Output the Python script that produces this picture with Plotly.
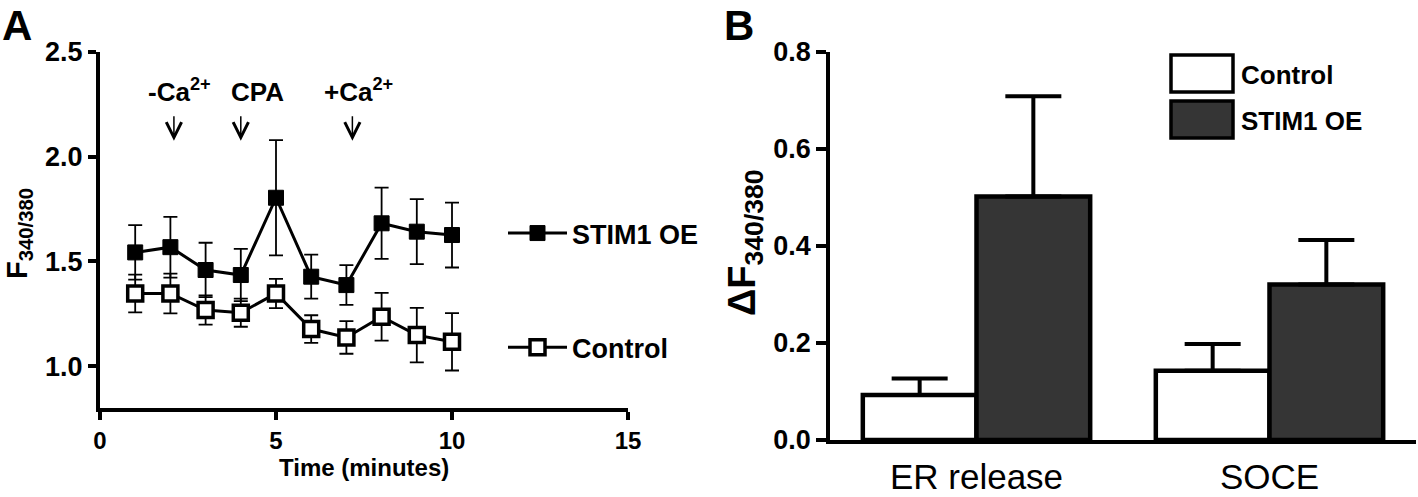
import plotly.graph_objects as go

# ---------------- Data ----------------
# Panel A: time course
time_min = [1, 2, 3, 4, 5, 6, 7, 8, 9, 10]
stim1_mean = [1.543, 1.568, 1.459, 1.435, 1.804, 1.427, 1.387, 1.682, 1.642, 1.626]
stim1_sem = [0.13, 0.145, 0.13, 0.125, 0.275, 0.105, 0.095, 0.17, 0.155, 0.155]
control_mean = [1.347, 1.347, 1.268, 1.255, 1.347, 1.177, 1.137, 1.236, 1.148, 1.116]
control_sem = [0.09, 0.095, 0.07, 0.067, 0.07, 0.066, 0.078, 0.114, 0.13, 0.137]

# event annotations (label text, label x, arrow x)
event_labels = ["-Ca<sup>2+</sup>", "CPA", "+Ca<sup>2+</sup>"]
event_label_x = [2.27, 4.47, 7.33]
event_arrow_x = [2.1, 4.0, 7.17]

# Panel B: bar chart
categories = ["ER release", "SOCE"]
bar_control = [0.093, 0.143]
bar_control_sem = [0.034, 0.055]
bar_stim1 = [0.502, 0.3205]
bar_stim1_sem = [0.207, 0.092]

FONT = "Liberation Sans, Arial, Helvetica, sans-serif"

fig = go.Figure()

# ---------------- Panel A ----------------
fig.add_trace(go.Scatter(
    x=time_min, y=stim1_mean, name="<b>STIM1 OE</b>", legendgroup="s",
    mode="lines+markers",
    line=dict(color="black", width=3),
    marker=dict(symbol="square", size=15, color="black", line=dict(color="black", width=1)),
    error_y=dict(type="data", array=stim1_sem, visible=True, color="black", thickness=1.8, width=7),
    xaxis="x", yaxis="y", legend="legend",
))
fig.add_trace(go.Scatter(
    x=time_min, y=control_mean, name="<b>Control</b>", legendgroup="c",
    mode="lines+markers",
    line=dict(color="black", width=3),
    marker=dict(symbol="square", size=15, color="white", line=dict(color="black", width=3.5)),
    error_y=dict(type="data", array=control_sem, visible=True, color="black", thickness=1.8, width=7),
    xaxis="x", yaxis="y", legend="legend",
))

# ---------------- Panel B ----------------
fig.add_trace(go.Bar(
    x=categories, y=bar_control, name="Control", showlegend=False,
    marker=dict(color="white", line=dict(color="black", width=4.5)),
    error_y=dict(type="data", symmetric=False, array=bar_control_sem,
                 arrayminus=[0] * len(bar_control), color="black", thickness=4, width=28),
    xaxis="x2", yaxis="y2", offsetgroup="c",
))
fig.add_trace(go.Bar(
    x=categories, y=bar_stim1, name="STIM1 OE", showlegend=False,
    marker=dict(color="#353535", line=dict(color="black", width=4.5)),
    error_y=dict(type="data", symmetric=False, array=bar_stim1_sem,
                 arrayminus=[0] * len(bar_stim1), color="black", thickness=4, width=28),
    xaxis="x2", yaxis="y2", offsetgroup="s",
))

W, H = 1418, 497


def px_x(p):
    return p / W


def px_y(p):
    return 1 - p / H


annotations = []

# event labels and arrows in panel A
for lab, lx, axx in zip(event_labels, event_label_x, event_arrow_x):
    annotations.append(dict(
        x=lx, y=2.23, xref="x", yref="y", text="<b>" + lab + "</b>",
        showarrow=False, xanchor="center", yanchor="bottom",
        font=dict(family=FONT, size=26, color="black"),
    ))
    annotations.append(dict(
        x=axx, y=2.076, xref="x", yref="y", text="",
        showarrow=True, ax=0, ay=-26, axref="pixel", ayref="pixel",
        arrowhead=5, arrowsize=2.0, arrowwidth=1.5, arrowcolor="black", standoff=0,
    ))

# Axis titles
annotations.append(dict(
    x=px_x(0), y=px_y(234), xref="paper", yref="paper",
    text="<b>F<sub>340/380</sub></b>", textangle=-90, showarrow=False,
    xanchor="left", yanchor="middle", borderpad=0,
    font=dict(family=FONT, size=29, color="black"),
))
annotations.append(dict(
    x=px_x(364), y=px_y(467), xref="paper", yref="paper",
    text="<b>Time (minutes)</b>", showarrow=False,
    xanchor="center", yanchor="middle", font=dict(family=FONT, size=24, color="black"),
))
annotations.append(dict(
    x=px_x(719), y=px_y(243), xref="paper", yref="paper",
    text="<b>ΔF<sub>340/380</sub></b>", textangle=-90, showarrow=False,
    xanchor="left", yanchor="middle", font=dict(family=FONT, size=38, color="black"),
))

# Panel letters
annotations.append(dict(
    x=px_x(0), y=px_y(0), xref="paper", yref="paper", text="<b>A</b>",
    showarrow=False, xanchor="left", yanchor="top",
    font=dict(family=FONT, size=42, color="black"),
))
annotations.append(dict(
    x=px_x(722), y=px_y(0), xref="paper", yref="paper", text="<b>B</b>",
    showarrow=False, xanchor="left", yanchor="top",
    font=dict(family=FONT, size=42, color="black"),
))

# Legend for panel B (large swatches)
legend_b_names = ["Control", "STIM1 OE"]
legend_b_colors = ["white", "#353535"]
legend_b_tops = [55, 101]
shapes = []
for nm, col, top in zip(legend_b_names, legend_b_colors, legend_b_tops):
    shapes.append(dict(
        type="rect", xref="paper", yref="paper",
        x0=px_x(1171), x1=px_x(1233), y0=px_y(top + 37), y1=px_y(top),
        fillcolor=col, line=dict(color="black", width=3.5),
    ))
    annotations.append(dict(
        x=px_x(1239), y=px_y(top + 20), xref="paper", yref="paper",
        text="<b>" + nm + "</b>", showarrow=False, xanchor="left", yanchor="middle",
        font=dict(family=FONT, size=26, color="black"),
    ))

axis_common = dict(
    showline=True, linecolor="black", linewidth=4, showgrid=False, zeroline=False,
    ticks="outside", ticklen=8, tickwidth=4, tickcolor="black", automargin=False,
)

fig.update_layout(
    width=W, height=H,
    margin=dict(l=0, r=0, t=0, b=0, autoexpand=False),
    paper_bgcolor="white", plot_bgcolor="white",
    font=dict(family=FONT, color="black"),
    barmode="group", bargap=0.224, bargroupgap=0,
    xaxis=dict(
        domain=[px_x(100), px_x(628)], range=[0, 15], tickvals=[0, 5, 10, 15],
        anchor="y", tickfont=dict(family=FONT, size=24, color="black", weight="bold"),
        **axis_common,
    ),
    yaxis=dict(
        domain=[px_y(408), px_y(52)], range=[0.8, 2.5], tickvals=[1.0, 1.5, 2.0, 2.5],
        tickformat=".1f", anchor="x",
        tickfont=dict(family=FONT, size=27, color="black", weight="bold"),
        **axis_common,
    ),
    xaxis2=dict(
        domain=[px_x(830), px_x(1416)], range=[-0.5, 1.5], anchor="y2",
        showline=True, linecolor="black", linewidth=3.5, showgrid=False, zeroline=False,
        ticks="", tickfont=dict(family=FONT, size=35, color="black"), automargin=False,
        ticklabelstandoff=3,
    ),
    yaxis2=dict(
        domain=[px_y(440), px_y(52)], range=[0, 0.8], tickvals=[0, 0.2, 0.4, 0.6, 0.8],
        tickformat=".1f", anchor="x2",
        showline=True, linecolor="black", linewidth=3.5, showgrid=False, zeroline=False,
        ticks="outside", ticklen=10, tickwidth=3.5, tickcolor="black", automargin=False,
        tickfont=dict(family=FONT, size=27, color="black", weight="bold"),
    ),
    legend=dict(
        x=px_x(503), y=px_y(209), xanchor="left", yanchor="top",
        bgcolor="rgba(0,0,0,0)", tracegroupgap=76,
        font=dict(family=FONT, size=27, color="black"),
        itemwidth=59,
    ),
    annotations=annotations,
    shapes=shapes,
    showlegend=True,
)

fig.write_html(
    "out.html",
    config={"displayModeBar": False},
    post_script="document.body.style.margin='0';document.body.style.overflow='hidden';",
)
